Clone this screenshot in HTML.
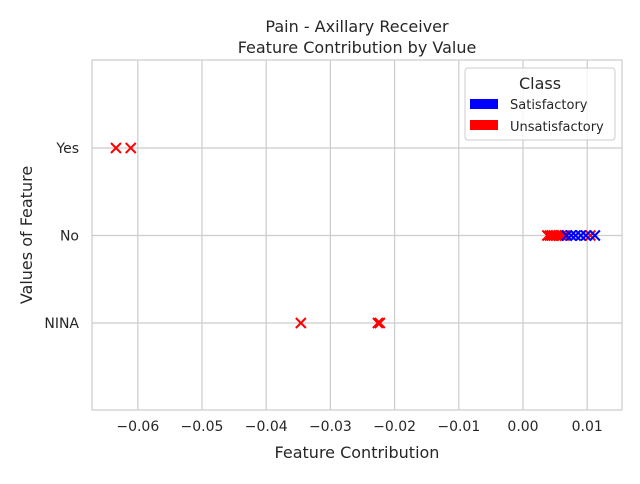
<!DOCTYPE html>
<html><head><meta charset="utf-8"><style>
body{margin:0;background:#fff;font-family:"DejaVu Sans","Liberation Sans",sans-serif;}
</style></head><body>
<svg id="chart" width="640" height="480" xmlns="http://www.w3.org/2000/svg" font-family="DejaVu Sans, Liberation Sans, sans-serif">
<g id="grid"></g>
<rect x="92" y="60" width="530" height="350" fill="none" stroke="#ccc" stroke-width="1.2"/>
<g id="marks"></g>
<g id="ticks" font-size="14" fill="#262626"></g>
<text x="357" y="32" font-size="16" text-anchor="middle" fill="#262626">Pain - Axillary Receiver</text>
<text x="357" y="53" font-size="16" text-anchor="middle" fill="#262626">Feature Contribution by Value</text>
<text x="357" y="458" font-size="16" text-anchor="middle" fill="#262626">Feature Contribution</text>
<text transform="translate(32,235) rotate(-90)" font-size="16" text-anchor="middle" fill="#262626">Values of Feature</text>
<g>
<rect x="465" y="68" width="150" height="72" rx="3" fill="#fff" fill-opacity="0.8" stroke="#ccc"/>
<text x="540" y="89" font-size="16" text-anchor="middle" fill="#262626">Class</text>
<rect x="470" y="99" width="28" height="10" fill="#00f"/>
<text x="510" y="109" font-size="13" fill="#262626">Satisfactory</text>
<rect x="470" y="120" width="28" height="10" fill="#f00"/>
<text x="510" y="131" font-size="13" fill="#262626">Unsatisfactory</text>
</g>
</svg>
<script>
const categories=["NINA","No","Yes"];
const xTicks=[-0.06,-0.05,-0.04,-0.03,-0.02,-0.01,0.00,0.01];
const redValues=[-0.0634,-0.0611,0.0038,0.0042,0.0045,0.0048,0.0052,0.0056,0.006,0.0065,0.0105,-0.0346,-0.0226,-0.0223];
const redCats=["Yes","Yes","No","No","No","No","No","No","No","No","No","NINA","NINA","NINA"];
const blueValues=[0.0068,0.0075,0.0082,0.009,0.0098,0.0112];
const blueCats=["No","No","No","No","No","No"];
const NS="http://www.w3.org/2000/svg";
const xs=v=>523+v*6420;
const ys=c=>323-categories.indexOf(c)*87.5;
const grid=document.getElementById('grid'),ticks=document.getElementById('ticks'),marks=document.getElementById('marks');
function mk(t,a,p){const e=document.createElementNS(NS,t);for(const k in a)e.setAttribute(k,a[k]);p.appendChild(e);return e;}
xTicks.forEach(v=>{const x=xs(v);
 const l=mk('line',{x1:x,x2:x,y1:60,y2:410,stroke:'#ccc','stroke-width':1.2},grid);
 
 
 const t=mk('text',{x:x,y:431,'text-anchor':'middle'},ticks);t.textContent=(v<0?'\u2212':'')+Math.abs(v).toFixed(2);
 
 
});
categories.forEach(c=>{const y=ys(c);
 const l=mk('line',{x1:92,x2:622,y1:y,y2:y,stroke:'#ccc','stroke-width':1.2},grid);
 
 
 const t=mk('text',{x:79,y:y+5,'text-anchor':'end'},ticks);t.textContent=c;
 
 
});
function cross(v,c,col){const x=xs(v),y=ys(c),s=5;
 const p=mk('path',{d:`M${x-s},${y-s}L${x+s},${y+s}M${x-s},${y+s}L${x+s},${y-s}`,stroke:col,'stroke-width':2},marks);
 
 
}
redValues.forEach((v,i)=>cross(v,redCats[i],'#f00'));
blueValues.forEach((v,i)=>cross(v,blueCats[i],'#00f'));
</script>
</body></html>
